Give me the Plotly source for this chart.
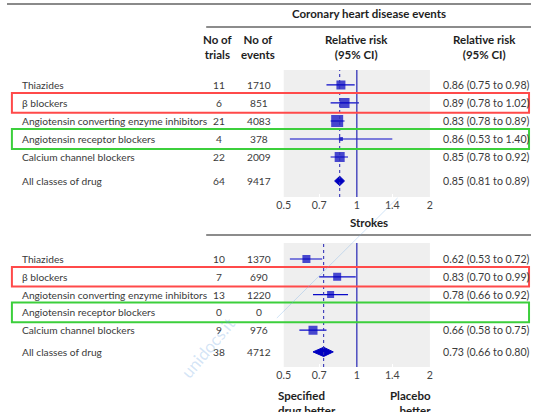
import plotly.graph_objects as go

W, H = 534, 412

drugs = ["Thiazides", "β blockers", "Angiotensin converting enzyme inhibitors",
         "Angiotensin receptor blockers", "Calcium channel blockers", "All classes of drug"]

chd_trials = [11, 6, 21, 4, 22, 64]
chd_events = [1710, 851, 4083, 378, 2009, 9417]
chd_rr = [0.86, 0.89, 0.83, 0.86, 0.85, 0.85]
chd_lo = [0.75, 0.78, 0.78, 0.53, 0.78, 0.81]
chd_hi = [0.98, 1.02, 0.89, 1.40, 0.92, 0.89]
chd_weight = [9, 10, 12, 4, 10]

stroke_trials = [10, 7, 13, 0, 9, 38]
stroke_events = [1370, 690, 1220, 0, 976, 4712]
stroke_rr = [0.62, 0.83, 0.78, None, 0.66, 0.73]
stroke_lo = [0.53, 0.70, 0.66, None, 0.58, 0.66]
stroke_hi = [0.72, 0.99, 0.92, None, 0.75, 0.80]
stroke_weight = [8, 8, 7, 0, 9]

tick_vals = [0.5, 0.7, 1, 1.4, 2]
tick_text = ["0.5", "0.7", "1", "1.4", "2"]

rows1 = [0, 1, 2, 3, 4, 5.33]
rows2 = [0, 1, 2, 3, 4, 5.22]

FONT = "Lato"
TXT = "#3a3a3a"
BLUE = "#0a0ac8"
LINEBLUE = "#3434b8"

def px(x):
    return x / W

def py(y):
    return 1 - y / H

fig = go.Figure()
annotations = []
shapes = []

def add_panel(xa, ya, rows, trials, events, rr, lo, hi, weight):
    xref = "x" if xa == 1 else "x%d" % xa
    yref = "y" if ya == 1 else "y%d" % ya
    cx, cy = [], []
    for i in range(5):
        if rr[i] is None:
            continue
        cx += [lo[i], hi[i], None]
        cy += [rows[i], rows[i], None]
    fig.add_trace(go.Scatter(x=cx, y=cy, mode="lines", xaxis=xref, yaxis=yref,
                             line=dict(color=BLUE, width=1.2), hoverinfo="skip", showlegend=False))
    mx, my, ms = [], [], []
    for i in range(5):
        if rr[i] is None:
            continue
        mx.append(rr[i]); my.append(rows[i]); ms.append(weight[i])
    fig.add_trace(go.Scatter(x=mx, y=my, mode="markers", xaxis=xref, yaxis=yref,
                             marker=dict(symbol="square", size=ms, color="#0000c0", line=dict(width=0)),
                             showlegend=False))
    h = 0.26
    r = rows[5]
    fig.add_trace(go.Scatter(x=[lo[5], rr[5], hi[5], rr[5], lo[5]],
                             y=[r, r - h, r, r + h, r], mode="lines", fill="toself",
                             fillcolor="#0000c0", line=dict(color="#0000c0", width=1),
                             xaxis=xref, yaxis=yref, showlegend=False))
    shapes.append(dict(type="line", xref=xref, yref=yref + " domain", x0=1, x1=1, y0=0, y1=1,
                       line=dict(color=LINEBLUE, width=1.3)))
    shapes.append(dict(type="line", xref=xref, yref=yref + " domain", x0=rr[5], x1=rr[5], y0=0, y1=1,
                       line=dict(color=LINEBLUE, width=1.1, dash="dot")))
    for i in range(6):
        annotations.append(dict(x=px(13), y=rows[i], xref="paper", yref=yref, text=drugs[i],
                                xanchor="left", yanchor="middle", showarrow=False))
        annotations.append(dict(x=px(216), y=rows[i], xref="paper", yref=yref, text=str(trials[i]),
                                xanchor="center", yanchor="middle", showarrow=False))
        annotations.append(dict(x=px(257), y=rows[i], xref="paper", yref=yref, text=str(events[i]),
                                xanchor="center", yanchor="middle", showarrow=False))
        if rr[i] is not None:
            annotations.append(dict(x=px(442), y=rows[i], xref="paper", yref=yref,
                                    text="%.2f (%.2f to %.2f)" % (rr[i], lo[i], hi[i]),
                                    xanchor="left", yanchor="middle", showarrow=False,
                                    font=dict(size=10.6)))
    for i, col in [(1, "#ff4a4a"), (3, "#3ccf3c")]:
        shapes.append(dict(type="rect", xref="paper", yref=yref, x0=px(5), x1=px(532),
                           y0=rows[i] - 0.55, y1=rows[i] + 0.55, line=dict(color=col, width=2)))

add_panel(1, 1, rows1, chd_trials, chd_events, chd_rr, chd_lo, chd_hi, chd_weight)
add_panel(2, 2, rows2, stroke_trials, stroke_events, stroke_rr, stroke_lo, stroke_hi, stroke_weight)

def bold(t, x, y, xanchor="center", yanchor="middle", align="center"):
    annotations.append(dict(x=px(x), y=py(y), xref="paper", yref="paper", text="<b>%s</b>" % t,
                            xanchor=xanchor, yanchor=yanchor, align=align, showarrow=False,
                            font=dict(family=FONT, size=11.5, color="#1e1e1e")))

bold("Coronary heart disease events", 369, 14)
bold("No of<br>trials", 215, 46.5)
bold("No of<br>events", 256, 46.5)
bold("Relative risk<br>(95% CI)", 356, 46.5)
bold("Relative risk<br>(95% CI)", 487, 46.5)
bold("Strokes", 369, 222)
bold("Specified<br>drug better", 274, 387, xanchor="left", yanchor="top", align="left")
bold("Placebo<br>better", 434, 387, xanchor="right", yanchor="top", align="right")

annotations.append(dict(x=px(205), y=py(385), xref="paper", yref="paper", text="unidocs.it",
                        textangle=-50, showarrow=False,
                        font=dict(family=FONT, size=17, color="rgba(110,165,225,0.3)")))

shapes.append(dict(type="line", xref="paper", yref="paper", x0=0, x1=1, y0=py(4), y1=py(4),
                   line=dict(color="#8a8a8a", width=2)))
shapes.append(dict(type="line", xref="paper", yref="paper", x0=px(203), x1=1, y0=py(27), y1=py(27),
                   line=dict(color="#666", width=1.5)))
shapes.append(dict(type="line", xref="paper", yref="paper", x0=px(203), x1=1, y0=py(235), y1=py(235),
                   line=dict(color="#666", width=1.5)))
shapes.append(dict(type="line", xref="paper", yref="paper", x0=px(275), x1=px(398), y0=py(318), y1=py(198),
                   line=dict(color="rgba(120,175,230,0.35)", width=1)))

xdom = [px(282), px(431)]
xax = dict(type="log", range=[-0.30103, 0.30103], domain=xdom, tickvals=tick_vals, ticktext=tick_text,
           showgrid=False, zeroline=False, showline=False, ticks="inside", ticklen=3,
           tickcolor="white", tickfont=dict(family=FONT, size=10.6, color="#444"), fixedrange=True)

fig.update_layout(
    width=W, height=H,
    margin=dict(l=0, r=0, t=0, b=0),
    paper_bgcolor="white", plot_bgcolor="#efefef",
    font=dict(family=FONT, size=10.2, color=TXT),
    showlegend=False,
    xaxis=dict(xax, anchor="y"),
    xaxis2=dict(xax, anchor="y2"),
    yaxis=dict(domain=[py(197), py(70)], range=[6.22, -0.83], visible=False, fixedrange=True),
    yaxis2=dict(domain=[py(367), py(243)], range=[6.07, -0.9], visible=False, fixedrange=True),
    annotations=annotations,
    shapes=shapes,
)

fig.write_html("out.html", config={"displayModeBar": False},
               post_script="document.body.style.margin='0';document.body.style.overflow='hidden';")
